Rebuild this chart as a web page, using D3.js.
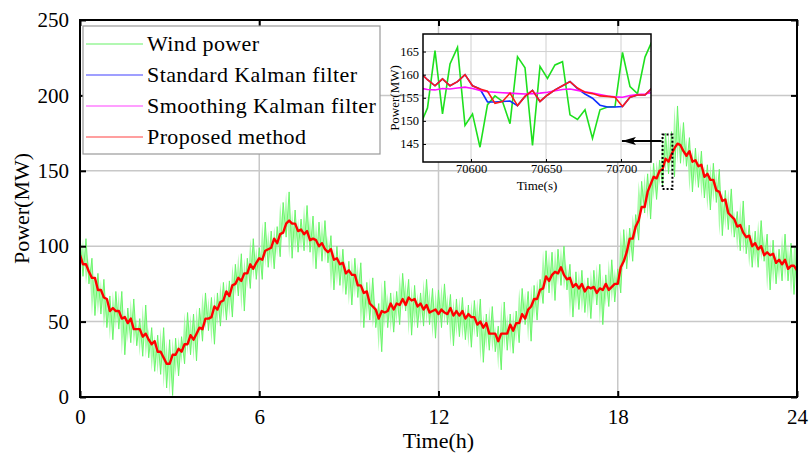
<!DOCTYPE html>
<html>
<head>
<meta charset="utf-8">
<script src="https://cdn.jsdelivr.net/npm/d3@7"></script>
<style>
  body { margin: 0; background: #fff; }
  svg text { font-family: "Liberation Serif", "Times New Roman", serif; fill: #000; }
</style>
</head>
<body>
<div id="chart"></div>
<script>
// ---- data ----
// main chart: one sample every 0.1 h, 0 .. 24 h
let hourStep = 0.1;
let windPower = [
 107,80,105,75,92,54,82,55,78,46, 67,38,70,45,70,28,59,36,65,34,
 52,27,61,26,46,17,41,15,46,6, 38,1,39,14,40,22,56,28,55,24,
 59,37,69,44,66,35,69,47,76,51, 77,53,88,67,95,57,92,72,105,78,
 99,78,116,86,110,85,113,93,129,106, 136,92,124,96,118,97,127,96,120,85,
 116,90,117,89,107,71,100,74,98,68, 90,61,92,66,89,46,76,51,79,46,
 62,30,77,46,69,43,70,48,82,57, 78,41,74,46,69,47,78,48,72,39,
 71,46,75,48,68,34,65,40,66,38, 61,33,64,40,65,23,55,31,60,30,
 47,18,63,31,55,29,57,36,72,48, 70,37,74,51,78,62,97,69,96,64,
 98,74,100,71,88,53,83,58,84,56, 79,52,84,61,88,48,81,60,91,63,
 85,69,111,85,112,90,121,104,143,122, 148,118,155,131,157,140,175,148,176,146,
 193,155,182,153,172,136,165,139,163,132, 154,124,155,129,151,107,137,111,138,106,
 123,97,130,95,114,86,110,86,117,90, 108,71,104,75,98,77,108,77,102,68,
 99
];
let proposed = [
 94,88,88,83,79,79,71,71,66,65, 57,59,57,57,52,53,49,52,45,45,
 45,40,42,38,35,37,30,30,26,22, 22,28,28,32,30,35,35,41,38,42,
 46,45,52,52,53,60,58,63,64,70, 67,74,75,79,77,82,82,88,85,89,
 92,91,97,98,99,105,102,108,109,115, 117,115,115,110,111,108,110,104,105,104,
 100,102,98,96,98,91,92,88,89,82, 84,81,81,74,74,69,70,62,60,58,
 52,57,56,57,62,58,62,61,65,61, 66,64,65,60,62,58,61,56,57,58,
 55,58,56,55,59,54,57,54,57,52, 55,53,53,48,50,46,49,42,42,42,
 37,42,42,42,48,44,49,49,55,52, 58,60,65,65,71,72,80,77,81,83,
 82,86,81,78,79,73,75,72,75,70, 73,72,73,69,72,71,75,71,73,75,
 75,86,90,96,105,105,113,117,126,126, 136,141,146,145,150,151,158,156,161,165,
 168,167,163,160,163,156,157,153,154,146, 148,144,144,137,136,130,131,122,120,118,
 113,114,109,106,107,100,102,98,100,94, 96,94,95,89,91,88,91,85,87,87,
 84
];
let hourTicks = [0, 6, 12, 18, 24];
let powerTicks = [0, 50, 100, 150, 200, 250];

// inset: one sample every 5 s
let insetTime = d3.range(70566, 70722, 5);
let insetWind = [149,152.8,165.2,151.5,162.3,165.9,149,151.5,144.3,153.5,155.4,154.2,149.4,163.9,161.5,144.7,
  161.8,159.2,162.1,162.8,151.3,150.3,152.4,146.2,152.4,153,153.1,164.8,157.4,155.9,163.8,167.5];
let insetStandard = [160.5,158.9,157.6,159.1,157.6,158.5,160,157.6,156.9,154.1,154.1,154.2,154.3,153.3,155.3,156.6,
  154.2,155.6,156.7,157.6,158.5,157,155.8,154.9,153.4,153,153,153.1,155.1,155.6,155.6,157.2];
let insetSmoothing = [157.1,156.8,156.7,157,156.9,157.1,157.3,157,156.6,156.3,156.2,156.1,156,155.9,155.8,155.9,
  156,156.2,156.5,156.8,156.9,156.6,156.3,156,155.7,155.4,155.2,155.1,155.5,155.7,155.8,156.2];
let insetProposed = [160.5,158.9,157.6,159.1,157.6,158.5,160,157.6,156.9,156.4,153.8,154.2,156,153.3,155.3,156.6,
  154.2,155.6,156.7,157.6,158.5,157.1,156.2,155.9,155.4,155.3,155.1,153.1,155.1,155.6,155.6,157.2];
let insetTimeTicks = [70600, 70650, 70700];
let insetPowerTicks = [145, 150, 155, 160, 165];

let legendNames = ["Wind power", "Standard Kalman filter", "Smoothing Kalman filter", "Proposed method"];
let legendColors = ["#33ee33", "#0000ff", "#ff00ff", "#ff0000"];

// zoom marker on the main chart (hours / MW)
let zoomBox = {h0: 19.5, h1: 19.83, p0: 138, p1: 174};
let arrowTipHour = 18.14, arrowPower = 169.8;

// ---- layout ----
let W = 811, H = 459;
let margin = {top: 20, right: 14, bottom: 62, left: 80};
let width = W - margin.left - margin.right;
let height = H - margin.top - margin.bottom;

let svg = d3.select("#chart").append("svg")
    .attr("width", W)
    .attr("height", H);

let g = svg.append("g")
    .attr("transform", "translate(" + margin.left + "," + margin.top + ")");

let x = d3.scaleLinear().domain([0, 24]).range([0, width]);
let y = d3.scaleLinear().domain([0, 250]).range([height, 0]);

g.append("defs").append("clipPath")
    .attr("id", "clip")
    .append("rect")
    .attr("width", width)
    .attr("height", height);

// grid
g.append("g").selectAll("line")
    .data(hourTicks.slice(1, -1))
    .enter().append("line")
    .attr("x1", d => x(d)).attr("x2", d => x(d))
    .attr("y1", 0).attr("y2", height)
    .attr("stroke", "#c8c8c8").attr("stroke-width", 1.5);
g.append("g").selectAll("line")
    .data(powerTicks.slice(1, -1))
    .enter().append("line")
    .attr("y1", d => y(d)).attr("y2", d => y(d))
    .attr("x1", 0).attr("x2", width)
    .attr("stroke", "#c8c8c8").attr("stroke-width", 1.5);

// series
let line = d3.line()
    .x((d, i) => x(i * hourStep))
    .y(d => y(d));

// dense ribbon between each sample and the next one, so the noisy trace reads as a band
let n = windPower.length;
let ribbon = d3.area()
    .x((d, i) => x(i * hourStep))
    .y0((d, i) => y(windPower[Math.min(i + 1, n - 1)]))
    .y1(d => y(d));

let plot = g.append("g").attr("clip-path", "url(#clip)");
plot.append("path")
    .datum(windPower)
    .attr("d", ribbon)
    .attr("fill", "#8dfb8d")
    .attr("fill-opacity", 0.75);
plot.append("path")
    .datum(windPower)
    .attr("d", line)
    .attr("fill", "none")
    .attr("stroke", "#62f462")
    .attr("stroke-width", 1)
    .attr("stroke-opacity", 0.9);
plot.append("path")
    .datum(proposed)
    .attr("d", line)
    .attr("fill", "none")
    .attr("stroke", "#ff0000")
    .attr("stroke-width", 2.4)
    .attr("stroke-linejoin", "round");

// axes with inward ticks on all four sides
let axisStyle = function(sel) {
    sel.select(".domain").remove();
    sel.selectAll(".tick line").attr("stroke", "#000").attr("stroke-width", 2);
    sel.selectAll(".tick text").style("font-size", "21px")
        .style("font-family", "'Liberation Serif', serif");
};
g.append("g")
    .attr("transform", "translate(0," + height + ")")
    .call(d3.axisBottom(x).tickValues(hourTicks).tickSizeInner(-6).tickSizeOuter(0).tickPadding(12))
    .call(axisStyle);
g.append("g")
    .call(d3.axisTop(x).tickValues(hourTicks).tickSizeInner(-6).tickSizeOuter(0).tickFormat(""))
    .call(axisStyle);
g.append("g")
    .call(d3.axisLeft(y).tickValues(powerTicks).tickSizeInner(-6).tickSizeOuter(0).tickPadding(11))
    .call(axisStyle);
g.append("g")
    .attr("transform", "translate(" + width + ",0)")
    .call(d3.axisRight(y).tickValues(powerTicks).tickSizeInner(-6).tickSizeOuter(0).tickFormat(""))
    .call(axisStyle);

g.append("rect")
    .attr("width", width).attr("height", height)
    .attr("fill", "none").attr("stroke", "#000").attr("stroke-width", 2);

// axis titles
g.append("text")
    .attr("x", width / 2).attr("y", height + 51)
    .attr("text-anchor", "middle")
    .style("font-size", "22px")
    .text("Time(h)");
g.append("text")
    .attr("transform", "translate(-51," + (height / 2) + ") rotate(-90)")
    .attr("text-anchor", "middle")
    .style("font-size", "22px")
    .text("Power(MW)");

// legend
let legend = g.append("g").attr("transform", "translate(3,6)");
legend.append("rect")
    .attr("width", 297).attr("height", 128)
    .attr("fill", "#fff").attr("stroke", "#999").attr("stroke-width", 1.2);
legendNames.forEach(function(name, i) {
    let yy = 18 + i * 31;
    legend.append("line")
        .attr("x1", 3).attr("x2", 60)
        .attr("y1", yy).attr("y2", yy)
        .attr("stroke", legendColors[i]).attr("stroke-width", 1.5)
        .attr("stroke-opacity", 0.5);
    legend.append("text")
        .attr("x", 64).attr("y", yy + 7)
        .style("font-size", "22px")
        .style("letter-spacing", "0.4px")
        .text(name);
});

// zoom marker
g.append("rect")
    .attr("x", x(zoomBox.h0)).attr("y", y(zoomBox.p1))
    .attr("width", x(zoomBox.h1) - x(zoomBox.h0))
    .attr("height", y(zoomBox.p0) - y(zoomBox.p1))
    .attr("fill", "none").attr("stroke", "#000")
    .attr("stroke-width", 2).attr("stroke-dasharray", "2,2");

// inset
let inset = {left: 343, top: 14, width: 228, height: 128};
let ig = g.append("g").attr("transform", "translate(" + inset.left + "," + inset.top + ")");
let ix = d3.scaleLinear().domain([70568, 70720]).range([0, inset.width]);
let iy = d3.scaleLinear().domain([141.1, 168.8]).range([inset.height, 0]);

ig.append("rect")
    .attr("width", inset.width).attr("height", inset.height)
    .attr("fill", "#fff");
ig.append("defs").append("clipPath")
    .attr("id", "clipInset")
    .append("rect")
    .attr("width", inset.width).attr("height", inset.height);

ig.selectAll(".vgrid")
    .data(insetTimeTicks)
    .enter().append("line")
    .attr("x1", d => ix(d)).attr("x2", d => ix(d))
    .attr("y1", 0).attr("y2", inset.height)
    .attr("stroke", "#d0d0d0").attr("stroke-width", 1);
ig.selectAll(".hgrid")
    .data(insetPowerTicks)
    .enter().append("line")
    .attr("y1", d => iy(d)).attr("y2", d => iy(d))
    .attr("x1", 0).attr("x2", inset.width)
    .attr("stroke", "#d0d0d0").attr("stroke-width", 1);

let iline = d3.line()
    .x((d, i) => ix(insetTime[i]))
    .y(d => iy(d));
let ip = ig.append("g").attr("clip-path", "url(#clipInset)");
[[insetWind, "#1ee01e"], [insetStandard, "#1030ff"], [insetSmoothing, "#ff10ff"], [insetProposed, "#ff1a1a"]]
    .forEach(function(s) {
        ip.append("path")
            .datum(s[0])
            .attr("d", iline)
            .attr("fill", "none")
            .attr("stroke", s[1])
            .attr("stroke-width", 1.6);
    });

let insetAxis = function(sel) {
    sel.select(".domain").remove();
    sel.selectAll(".tick line").attr("stroke", "#000");
    sel.selectAll(".tick text").style("font-size", "12.5px")
        .style("font-family", "'Liberation Serif', serif");
};
ig.append("g")
    .attr("transform", "translate(0," + inset.height + ")")
    .call(d3.axisBottom(ix).tickValues(insetTimeTicks).tickSizeInner(-3).tickSizeOuter(0).tickPadding(2).tickFormat(d3.format("d")))
    .call(insetAxis);
ig.append("g")
    .call(d3.axisLeft(iy).tickValues(insetPowerTicks).tickSizeInner(-3).tickSizeOuter(0).tickPadding(4))
    .call(insetAxis);
ig.append("rect")
    .attr("width", inset.width).attr("height", inset.height)
    .attr("fill", "none").attr("stroke", "#000").attr("stroke-width", 1.5);
ig.append("text")
    .attr("x", inset.width / 2).attr("y", inset.height + 28)
    .attr("text-anchor", "middle")
    .style("font-size", "13px")
    .text("Time(s)");
ig.append("text")
    .attr("transform", "translate(-24," + (inset.height / 2) + ") rotate(-90)")
    .attr("text-anchor", "middle")
    .style("font-size", "13px")
    .text("Power(MW)");

// arrow from the marker to the inset (head drawn along +x, tip at the line end)
svg.append("defs").append("marker")
    .attr("id", "arrowHead")
    .attr("viewBox", "0 0 14 8")
    .attr("refX", 14).attr("refY", 4)
    .attr("markerUnits", "userSpaceOnUse")
    .attr("markerWidth", 14).attr("markerHeight", 8)
    .attr("orient", "auto")
    .append("path")
    .attr("d", "M0,0 L14,4 L0,8 L3,4 Z")
    .attr("fill", "#000");
g.append("line")
    .attr("x1", x(zoomBox.h0) - 1).attr("x2", x(arrowTipHour))
    .attr("y1", y(arrowPower)).attr("y2", y(arrowPower))
    .attr("stroke", "#000").attr("stroke-width", 2)
    .attr("marker-end", "url(#arrowHead)");
</script>
</body>
</html>
